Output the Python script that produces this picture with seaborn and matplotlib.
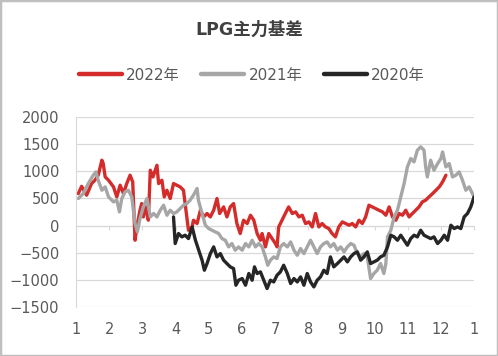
import pandas as pd
import numpy as np
import matplotlib
matplotlib.use('Agg')
import matplotlib.pyplot as plt
import seaborn as sns

# month position (1 = Jan 1, 13 = next Jan 1) and basis values
red_x = [1.07, 1.17, 1.32, 1.47, 1.57, 1.67, 1.78, 1.82, 1.88, 1.98, 2.13, 2.23, 2.33, 2.43,
         2.53, 2.63, 2.71, 2.78, 2.85, 2.93, 2.98, 3.03, 3.11, 3.18, 3.24, 3.32, 3.44, 3.49,
         3.59, 3.66, 3.74, 3.84, 3.94, 4.04, 4.14, 4.24, 4.34, 4.39, 4.50, 4.54, 4.65, 4.75,
         4.85, 4.95, 5.05, 5.15, 5.25, 5.33, 5.45, 5.55, 5.65, 5.75, 5.85, 5.95, 6.05, 6.16,
         6.26, 6.36, 6.46, 6.56, 6.61, 6.71, 6.81, 6.91, 7.01, 7.06, 7.11, 7.21, 7.31, 7.41,
         7.52, 7.62, 7.72, 7.82, 7.92, 8.02, 8.12, 8.22, 8.32, 8.42, 8.52, 8.62, 8.72, 8.82,
         8.92, 9.03, 9.13, 9.23, 9.33, 9.43, 9.53, 9.63, 9.73, 9.83, 9.93, 10.03, 10.13, 10.24,
         10.34, 10.44, 10.54, 10.59, 10.64, 10.74, 10.84, 10.94, 11.04, 11.14, 11.24, 11.34,
         11.44, 11.54, 11.64, 11.75, 11.85, 11.95, 12.05, 12.15]
red_y = [590, 725, 560, 776, 837, 930, 1207, 1146, 898, 837, 714, 529, 745, 591,
         776, 930, 806, -272, 37, 283, 406, 159, 344, 98, 1022, 898, 1114, 776,
         837, 529, 652, 499, 776, 745, 714, 652, 159, -87, -26, 98, 37, 283,
         159, 222, 159, 283, 499, 222, 344, 159, 344, 406, 37, -148, 98, 37,
         190, 98, -148, -272, -148, -395, -148, -240, -333, -395, -26, 98, 222, 344,
         222, 252, 159, 190, 37, 67, -26, 222, -26, 37, -26, -56, -148, -210,
         -26, 67, 37, 6, 37, -26, 98, 37, 159, 375, 344, 314, 283, 252,
         190, 344, 159, 129, 98, 222, 190, 283, 159, 222, 283, 344,
         437, 468, 529, 591, 652, 714, 806, 930]

gray_x = [1.07, 1.22, 1.37, 1.52, 1.60, 1.67, 1.78, 1.88, 1.98, 2.13, 2.23, 2.31, 2.38, 2.48,
          2.58, 2.68, 2.78, 2.85, 2.93, 3.03, 3.14, 3.24, 3.34, 3.44, 3.54, 3.64, 3.74, 3.84,
          3.94, 4.04, 4.14, 4.24, 4.34, 4.44, 4.54, 4.65, 4.69, 4.80, 4.90, 5.00, 5.10, 5.20,
          5.30, 5.40, 5.50, 5.60, 5.70, 5.80, 5.90, 6.01, 6.11, 6.21, 6.31, 6.41, 6.51, 6.61,
          6.71, 6.78, 6.86, 6.96, 7.06, 7.16, 7.26, 7.37, 7.47, 7.57, 7.67, 7.77, 7.87, 7.97,
          8.07, 8.17, 8.27, 8.37, 8.47, 8.57, 8.67, 8.77, 8.88, 8.98, 9.08, 9.18, 9.28, 9.38,
          9.48, 9.58, 9.68, 9.78, 9.88, 9.98, 10.08, 10.18, 10.28, 10.34, 10.39, 10.49, 10.59,
          10.69, 10.79, 10.89, 10.99, 11.09, 11.19, 11.29, 11.39, 11.49, 11.54, 11.59, 11.69,
          11.79, 11.90, 12.00, 12.05, 12.15, 12.25, 12.35, 12.45, 12.55, 12.65, 12.75, 12.85,
          12.95, 13.00]
gray_y = [499, 591, 776, 930, 991, 837, 652, 714, 529, 437, 468, 252, 499, 622,
          652, 529, 37, -118, 129, 344, 499, 159, 222, 159, 283, 375, 190, 283,
          222, 252, 314, 375, 406, 468, 560, 684, 468, 222, 6, -56, -87, -118,
          -148, -241, -272, -395, -333, -456, -395, -456, -333, -395, -272, -395, -333, -395,
          -580, -734, -641, -580, -610, -395, -333, -395, -303, -456, -549, -425, -518, -395,
          -272, -395, -518, -395, -333, -303, -395, -333, -456, -395, -487, -395, -333, -364,
          -518, -580, -518, -580, -980, -887, -826, -703, -887, -703, -210, -87, 159,
          283, 529, 776, 1083, 1238, 1176, 1392, 1453, 1392, 1083, 898, 1207,
          1022, 1145, 1238, 1360, 1083, 1145, 898, 930, 991, 837, 652, 714,
          591, 529]

black_x = [3.94, 3.99, 4.09, 4.19, 4.29, 4.39, 4.50, 4.60, 4.70, 4.80, 4.87, 4.95, 5.05, 5.15,
           5.25, 5.35, 5.45, 5.55, 5.65, 5.75, 5.82, 5.90, 6.01, 6.11, 6.21, 6.31, 6.38, 6.46,
           6.56, 6.66, 6.76, 6.86, 6.96, 7.06, 7.16, 7.26, 7.37, 7.47, 7.57, 7.67, 7.77, 7.87,
           7.97, 8.07, 8.17, 8.27, 8.37, 8.47, 8.57, 8.67, 8.77, 8.88, 8.98, 9.08, 9.18, 9.28,
           9.38, 9.48, 9.58, 9.68, 9.78, 9.88, 9.98, 10.08, 10.18, 10.28, 10.39, 10.49, 10.59,
           10.69, 10.79, 10.89, 10.99, 11.09, 11.19, 11.29, 11.39, 11.49, 11.59, 11.69, 11.79,
           11.90, 12.00, 12.10, 12.20, 12.30, 12.40, 12.50, 12.60, 12.70, 12.80, 12.90, 13.00]
black_y = [159, -333, -148, -210, -179, -241, -26, -272, -456, -641, -826, -703, -518, -395,
           -580, -518, -641, -703, -764, -795, -1103, -1011, -980, -1103, -887, -1011, -764, -887,
           -857, -1011, -1164, -1011, -1042, -918, -857, -734, -887, -1072, -980, -1042, -949, -1103,
           -887, -1042, -1134, -1011, -949, -826, -887, -580, -764, -703, -641, -580, -672, -580,
           -518, -487, -641, -580, -487, -703, -672, -641, -580, -549, -395, -179, -210,
           -272, -179, -272, -364, -241, -179, -210, -87, -179, -210, -241, -210,
           -333, -272, -179, -272, 6, -56, -26, -56, 159, 222, 344, 529]

series = ['2022年', '2021年', '2020年']
colors = ['#D42B2B', '#A6A6A6', '#262626']
month_labels = ['1', '2', '3', '4', '5', '6', '7', '8', '9', '10', '11', '12', '1']

df = pd.concat([
    pd.DataFrame({'month': red_x, 'basis': red_y, 'year': series[0]}),
    pd.DataFrame({'month': gray_x, 'basis': gray_y, 'year': series[1]}),
    pd.DataFrame({'month': black_x, 'basis': black_y, 'year': series[2]}),
], ignore_index=True)

sns.set_style('white')
plt.rcParams['font.family'] = ['DejaVu Sans', 'Noto Sans CJK SC']

fig = plt.figure(figsize=(4.98, 3.56), dpi=100)
ax = fig.add_axes([0.1526, 0.1385, 0.7994, 0.532])

sns.lineplot(data=df, x='month', y='basis', hue='year', hue_order=series,
             palette=dict(zip(series, colors)), estimator=None, sort=False,
             linewidth=2.4, ax=ax)

ax.set_xlim(1, 13)
ax.set_ylim(-1500, 2000)
ax.set_yticks(np.arange(-1500, 2001, 500))
ax.set_xticks(range(1, 14))
ax.set_xticklabels(month_labels)
ax.set_xlabel('')
ax.set_ylabel('')
ax.grid(axis='y', color='#D9D9D9', linewidth=0.9)
ax.set_axisbelow(True)
for s in ['top', 'right', 'bottom']:
    ax.spines[s].set_visible(False)
ax.spines['left'].set_color('#D9D9D9')
ax.tick_params(axis='y', length=3, color='#D9D9D9', pad=9, labelsize=10.5, labelcolor='#595959')
ax.tick_params(axis='x', length=0, pad=11, labelsize=10.5, labelcolor='#595959')

# horizontal axis crosses at zero with its own tick marks
zero_frac = 1500 / 3500
sec = ax.secondary_xaxis(zero_frac)
sec.set_xticks(range(1, 14))
sec.set_xticklabels([])
sec.tick_params(length=3, color='#D9D9D9', direction='out')
sec.spines['bottom'].set_color('#D9D9D9')
for s in ['top', 'left', 'right']:
    if s in sec.spines:
        sec.spines[s].set_visible(False)

sns.move_legend(ax, 'center', bbox_to_anchor=(0.442, 1.223), ncol=3, title=None,
                frameon=False, fontsize=11, handlelength=2.8, handletextpad=0.3,
                columnspacing=1.4, labelcolor='#595959')
for line in ax.get_legend().get_lines():
    line.set_linewidth(3.2)

fig.text(0.5, 0.916, 'LPG主力基差', ha='center', va='center', fontsize=12.5,
         fontweight='bold', color='#404040')

fig.patches.append(plt.Rectangle((0, 0), 1, 1, transform=fig.transFigure, fill=False,
                                 edgecolor='#BFBFBF', linewidth=2.5))

fig.savefig('out.png', dpi=100)
